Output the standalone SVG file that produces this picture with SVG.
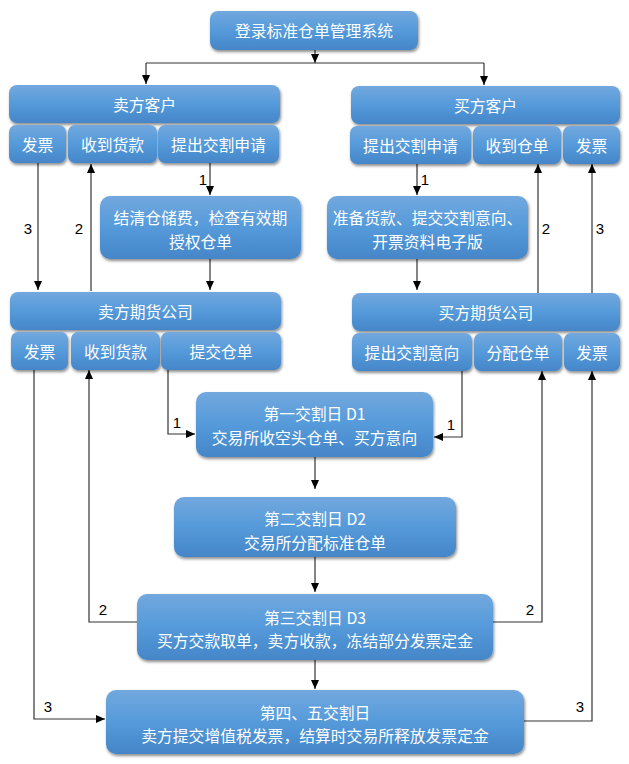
<svg xmlns="http://www.w3.org/2000/svg" width="629" height="764" viewBox="0 0 629 764">
<defs>
<linearGradient id="g" x1="0" y1="0" x2="0" y2="1">
<stop offset="0" stop-color="#72a8de"/>
<stop offset="0.5" stop-color="#559ada"/>
<stop offset="1" stop-color="#4586c8"/>
</linearGradient>
<filter id="sh" x="-10%" y="-20%" width="120%" height="150%">
<feDropShadow dx="1" dy="2" stdDeviation="1.6" flood-color="#000" flood-opacity="0.45"/>
</filter>
<marker id="ah" markerWidth="9" markerHeight="8" refX="9" refY="4" orient="auto" markerUnits="userSpaceOnUse">
<path d="M0,0 L9,4 L0,8 z" fill="#000"/>
</marker>
</defs>
<style>
.b{fill:url(#g);filter:url(#sh)}
.t{fill:#fff;font-family:"Noto Sans CJK SC","Liberation Sans",sans-serif;font-size:15.8px;text-anchor:middle;dominant-baseline:central}
.c{fill:none;stroke:#333;stroke-width:1.2}
.a{marker-end:url(#ah)}
.n{fill:#000;font-family:"Liberation Sans",Arial,sans-serif;font-size:15px;text-anchor:middle;dominant-baseline:central}
</style>
<rect width="629" height="764" fill="#fff"/>
<g id="connectors">
<polyline class="c a" points="315,50 315,63"/>
<polyline class="c" points="146,63 484,63"/>
<polyline class="c a" points="146,63 146,84"/>
<polyline class="c a" points="484,63 484,85"/>
<polyline class="c a" points="38,163 38,290"/>
<polyline class="c a" points="91,291 91,164"/>
<polyline class="c a" points="210,163 210,195"/>
<polyline class="c a" points="210,259 210,290"/>
<polyline class="c a" points="417,164 417,195"/>
<polyline class="c a" points="417,259 417,290"/>
<polyline class="c a" points="538,293 538,164"/>
<polyline class="c a" points="592,293 592,164"/>
<polyline class="c a" points="168,370 168,434 195,434"/>
<polyline class="c a" points="462,371 462,437 434,437"/>
<polyline class="c a" points="315,457 315,489"/>
<polyline class="c a" points="315,557 315,592"/>
<polyline class="c a" points="315,660 315,689"/>
<polyline class="c a" points="137,622 89,622 89,370"/>
<polyline class="c a" points="493,622 542,622 542,371"/>
<polyline class="c a" points="34,370 34,719 105,719"/>
<polyline class="c a" points="524,721 592,721 592,371"/>
<text class="n" x="28" y="228">3</text>
<text class="n" x="79" y="228">2</text>
<text class="n" x="203" y="179">1</text>
<text class="n" x="425" y="179">1</text>
<text class="n" x="546" y="228">2</text>
<text class="n" x="600" y="228">3</text>
<text class="n" x="177" y="422">1</text>
<text class="n" x="451" y="424">1</text>
<text class="n" x="103" y="609">2</text>
<text class="n" x="530" y="609">2</text>
<text class="n" x="48" y="706">3</text>
<text class="n" x="580" y="706">3</text>
</g>
<g id="login"><rect class="b" x="210" y="11" width="208" height="39" rx="8"/><text class="t" x="314" y="30.5">登录标准仓单管理系统</text></g>
<g id="seller"><rect class="b" x="9" y="85" width="271" height="38" rx="8"/><text class="t" x="144.5" y="104">卖方客户</text></g>
<g id="buyer"><rect class="b" x="351" y="86" width="269" height="38" rx="8"/><text class="t" x="485.5" y="105">买方客户</text></g>
<g id="s-invoice"><rect class="b" x="9" y="125" width="57" height="38" rx="7"/><text class="t" x="37.5" y="144">发票</text></g>
<g id="s-payment"><rect class="b" x="68" y="125" width="89" height="38" rx="7"/><text class="t" x="112.5" y="144">收到货款</text></g>
<g id="s-apply"><rect class="b" x="158" y="125" width="121" height="38" rx="7"/><text class="t" x="218.5" y="144">提出交割申请</text></g>
<g id="b-apply"><rect class="b" x="350" y="126" width="121" height="38" rx="7"/><text class="t" x="410.5" y="145">提出交割申请</text></g>
<g id="b-receipt"><rect class="b" x="473" y="126" width="88" height="38" rx="7"/><text class="t" x="517" y="145">收到仓单</text></g>
<g id="b-invoice"><rect class="b" x="563" y="126" width="57" height="38" rx="7"/><text class="t" x="591.5" y="145">发票</text></g>
<g id="s-settle"><rect class="b" x="100" y="196" width="201" height="63" rx="10"/><text class="t" x="200.5" y="217">结清仓储费，检查有效期</text><text class="t" x="200.5" y="241">授权仓单</text></g>
<g id="b-prepare"><rect class="b" x="327" y="196" width="201" height="63" rx="10"/><text class="t" x="427.5" y="217">准备货款、提交交割意向、</text><text class="t" x="427.5" y="241">开票资料电子版</text></g>
<g id="s-broker"><rect class="b" x="10" y="292" width="271" height="38" rx="8"/><text class="t" x="145.5" y="311">卖方期货公司</text></g>
<g id="b-broker"><rect class="b" x="352" y="293" width="268" height="38" rx="8"/><text class="t" x="486" y="312">买方期货公司</text></g>
<g id="sb-invoice"><rect class="b" x="11" y="332" width="57" height="38" rx="7"/><text class="t" x="39.5" y="351">发票</text></g>
<g id="sb-payment"><rect class="b" x="71" y="332" width="89" height="38" rx="7"/><text class="t" x="115.5" y="351">收到货款</text></g>
<g id="sb-submit"><rect class="b" x="161" y="332" width="120" height="38" rx="7"/><text class="t" x="221" y="351">提交仓单</text></g>
<g id="bb-intent"><rect class="b" x="352" y="333" width="120" height="38" rx="7"/><text class="t" x="412" y="352">提出交割意向</text></g>
<g id="bb-allocate"><rect class="b" x="474" y="333" width="88" height="38" rx="7"/><text class="t" x="518" y="352">分配仓单</text></g>
<g id="bb-invoice"><rect class="b" x="564" y="333" width="56" height="38" rx="7"/><text class="t" x="592" y="352">发票</text></g>
<g id="d1"><rect class="b" x="196" y="392" width="237" height="65" rx="10"/><text class="t" x="314.5" y="413">第一交割日 D1</text><text class="t" x="314.5" y="437">交易所收空头仓单、买方意向</text></g>
<g id="d2"><rect class="b" x="174" y="497" width="282" height="60" rx="10"/><text class="t" x="315" y="518">第二交割日 D2</text><text class="t" x="315" y="542">交易所分配标准仓单</text></g>
<g id="d3"><rect class="b" x="137" y="594" width="356" height="66" rx="10"/><text class="t" x="315" y="617">第三交割日 D3</text><text class="t" x="315" y="640">买方交款取单，卖方收款，冻结部分发票定金</text></g>
<g id="d45"><rect class="b" x="106" y="690" width="418" height="64" rx="10"/><text class="t" x="315" y="712">第四、五交割日</text><text class="t" x="315" y="735">卖方提交增值税发票，结算时交易所释放发票定金</text></g>
</svg>
